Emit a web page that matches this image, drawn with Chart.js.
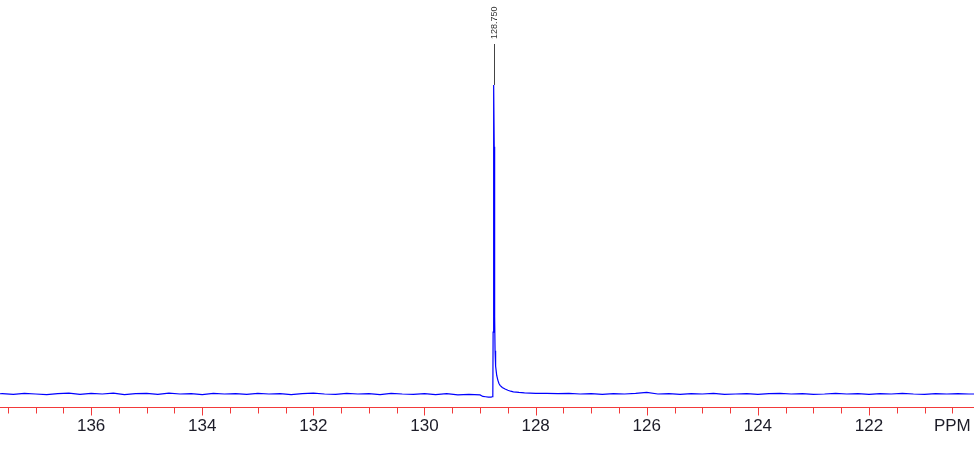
<!DOCTYPE html>
<html>
<head>
<meta charset="utf-8">
<script src="https://cdn.jsdelivr.net/npm/chart.js@4.4.1/dist/chart.umd.min.js"></script>
<style>
  html, body { margin: 0; padding: 0; background: #fff; }
  canvas { display: block; }
</style>
</head>
<body>
<canvas id="spectrum" width="974" height="461"></canvas>
<script>
// chemical shift (ppm) and relative intensity
const shifts = [
  137.8, 137.6, 137.4, 137.2, 137.0, 136.8, 136.6, 136.4, 136.2, 136.0,
  135.8, 135.6, 135.4, 135.2, 135.0, 134.8, 134.6, 134.4, 134.2, 134.0,
  133.8, 133.6, 133.4, 133.2, 133.0, 132.8, 132.6, 132.4, 132.2, 132.0,
  131.8, 131.6, 131.4, 131.2, 131.0, 130.8, 130.6, 130.4, 130.2, 130.0,
  129.8, 129.6, 129.4, 129.2, 129.1, 129.0, 128.95, 128.9, 128.85, 128.8,
  128.78, 128.77, 128.765, 128.76, 128.755, 128.75, 128.745, 128.74, 128.735, 128.73,
  128.72, 128.7, 128.68, 128.66, 128.64, 128.6, 128.55, 128.5, 128.45, 128.4,
  128.3, 128.2, 128.0, 127.8, 127.6, 127.4, 127.2, 127.0, 126.8, 126.6,
  126.4, 126.2, 126.0, 125.8, 125.6, 125.4, 125.2, 125.0, 124.8, 124.6,
  124.4, 124.2, 124.0, 123.8, 123.6, 123.4, 123.2, 123.0, 122.8, 122.6,
  122.4, 122.2, 122.0, 121.8, 121.6, 121.4, 121.2, 121.0, 120.8, 120.6,
  120.4, 120.2, 120.0
];
const intensity = [
  0, 0.1, -0.1, 0.2, 0, -0.2, 0.1, 0.3, -0.1, 0.2,
  0, 0.3, -0.2, 0.1, 0.2, -0.1, 0.3, 0, 0.1, -0.2,
  0.2, 0, 0.1, -0.1, 0.2, 0, 0.1, -0.2, 0.1, 0.3,
  0, -0.1, 0.2, 0, 0.1, -0.2, 0.2, 0, -0.1, 0.1,
  -0.2, 0.1, -0.3, -0.1, -0.2, -0.3, -0.8, -0.9, -1.0, -1.0,
  -0.9, 0, 20, 55, 90, 100, 80, 50, 25, 14,
  9, 6, 4.5, 3.4, 2.8, 2.1, 1.6, 1.2, 0.9, 0.7,
  0.5, 0.35, 0.2, 0.2, 0.1, 0.2, 0, 0.1, -0.1, 0.1,
  0, 0.2, 0.5, 0, 0.1, -0.1, 0.1, 0, 0.2, -0.1,
  0, 0.1, -0.1, 0.1, 0.2, 0, 0.1, -0.1, 0, 0.2,
  0, 0.1, -0.1, 0.1, 0, 0.2, 0, -0.1, 0.1, 0,
  0.1, 0, 0
];

// picked peaks
const peakShifts = [128.750];
const peakHeights = [100];

// axis ticks every 0.5 ppm, labels on even values
const tickValues = [];
for (let v = 137.5; v >= 120.5; v -= 0.5) tickValues.push(v);
const axisTitle = "PPM";

const red = "#f23a3a";

const spectrumDecor = {
  id: "spectrumDecor",
  afterDraw(chart) {
    const ctx = chart.ctx;
    const xs = chart.scales.x;
    const ys = chart.scales.y;
    const yAxis = chart.chartArea.bottom + 0.5;

    ctx.save();
    // axis line
    ctx.strokeStyle = red;
    ctx.lineWidth = 1;
    ctx.beginPath();
    ctx.moveTo(0, yAxis);
    ctx.lineTo(chart.width, yAxis);
    ctx.stroke();

    // tick marks, longer on the labelled values
    xs.ticks.forEach(t => {
      const x = Math.round(xs.getPixelForValue(t.value)) + 0.5;
      const major = Math.abs(t.value % 2) < 1e-6;
      ctx.beginPath();
      ctx.moveTo(x, yAxis);
      ctx.lineTo(x, yAxis + (major ? 8 : 6));
      ctx.stroke();
    });

    // peak labels with leader lines
    peakShifts.forEach((p, i) => {
      const x = Math.round(xs.getPixelForValue(p)) + 0.5;
      const yTop = ys.getPixelForValue(peakHeights[i]);
      ctx.strokeStyle = "#444";
      ctx.beginPath();
      ctx.moveTo(x, yTop);
      ctx.lineTo(x, 44);
      ctx.stroke();

      ctx.translate(x, 39);
      ctx.rotate(-Math.PI / 2);
      ctx.fillStyle = "#333";
      ctx.font = "9px 'Liberation Sans', Arial, sans-serif";
      ctx.textAlign = "left";
      ctx.textBaseline = "middle";
      ctx.fillText(p.toFixed(3), 0, 0);
      ctx.setTransform(1, 0, 0, 1, 0, 0);
    });
    ctx.restore();
  }
};

new Chart(document.getElementById("spectrum"), {
  type: "line",
  data: {
    datasets: [{
      data: shifts.map((s, i) => ({ x: s, y: intensity[i] })),
      borderColor: "#0000ff",
      borderWidth: 1.2,
      pointRadius: 0,
      tension: 0,
      fill: false
    }]
  },
  options: {
    responsive: false,
    devicePixelRatio: 1,
    animation: false,
    layout: { padding: 0 },
    plugins: { legend: { display: false }, tooltip: { enabled: false } },
    scales: {
      x: {
        type: "linear",
        reverse: true,
        min: 120.11,
        max: 137.64,
        afterBuildTicks: scale => {
          scale.ticks = tickValues.map(v => ({ value: v }));
        },
        afterFit: scale => {
          scale.height = 54;
          scale.paddingLeft = 0;
          scale.paddingRight = 0;
        },
        grid: { display: false, drawTicks: false },
        border: { display: false },
        ticks: {
          autoSkip: false,
          maxRotation: 0,
          padding: 9,
          color: "#1c1c28",
          font: { family: "'Liberation Sans', Arial, sans-serif", size: 17 },
          callback: v => {
            if (Math.abs(v - 120.5) < 1e-6) return axisTitle;
            return Math.abs(v % 2) < 1e-6 ? String(v) : "";
          }
        }
      },
      y: {
        display: false,
        min: -4.21,
        max: 127.5
      }
    }
  },
  plugins: [spectrumDecor]
});
</script>
</body>
</html>
